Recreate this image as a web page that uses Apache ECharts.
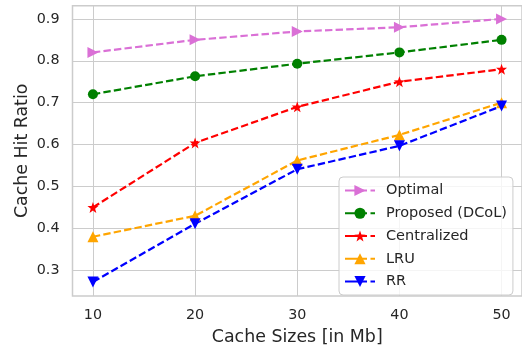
<!DOCTYPE html>
<html>
<head>
<meta charset="utf-8">
<script src="https://cdn.jsdelivr.net/npm/echarts@6/dist/echarts.min.js"></script>
<style>html,body{margin:0;padding:0;background:#fff;}#c{width:522px;height:351px;}</style>
</head>
<body>
<div id="c"></div>
<script>
var cacheSizes = [10, 20, 30, 40, 50];
var optimal = [0.82, 0.85, 0.87, 0.88, 0.90];
var proposed = [0.72, 0.763, 0.793, 0.82, 0.85];
var centralized = [0.45, 0.604, 0.69, 0.75, 0.78];
var lru = [0.38, 0.43, 0.562, 0.623, 0.70];
var rr = [0.272, 0.411, 0.541, 0.597, 0.692];
var xTicks = [10, 20, 30, 40, 50];
var yTicks = [0.3, 0.4, 0.5, 0.6, 0.7, 0.8, 0.9];

var FONT = 'DejaVu Sans';
var TXT = '#262626';
var STAR = 'path://M0,-10 L2.35,-3.24 L9.51,-3.09 L3.8,1.24 L5.88,8.09 L0,4 L-5.88,8.09 L-3.8,1.24 L-9.51,-3.09 L-2.35,-3.24Z';

function pairs(ys) { return cacheSizes.map(function (x, i) { return [x, ys[i]]; }); }
function mk(name, ys, color, symbol, rot, size) {
  return {
    name: name, type: 'line', data: pairs(ys),
    symbol: symbol, symbolRotate: rot, symbolSize: size,
    showSymbol: true, animation: false,
    lineStyle: { color: color, width: 2.2, type: [7.4, 3.2] },
    itemStyle: { color: color },
    emphasis: { disabled: true }
  };
}

var chart = echarts.init(document.getElementById('c'), null, { renderer: 'canvas' });
chart.setOption({
  animation: false,
  backgroundColor: '#ffffff',
  textStyle: { fontFamily: FONT },
  grid: { left: 72.5, top: 5.7, width: 450, height: 292.2, show: true, borderColor: '#cccccc', borderWidth: 1.5, containLabel: false },
  xAxis: {
    type: 'value', min: 8, max: 52,
    name: 'Cache Sizes [in Mb]', nameLocation: 'middle', nameGap: 33, nameMoveOverlap: false,
    nameTextStyle: { fontFamily: FONT, fontSize: 17.4, color: TXT },
    axisLine: { show: false },
    axisTick: { show: false, customValues: xTicks },
    axisLabel: { customValues: xTicks, fontFamily: FONT, fontSize: 14.3, color: TXT, margin: 12 },
    splitLine: { show: true, lineStyle: { color: '#cccccc', width: 1 } }
  },
  yAxis: {
    type: 'value', min: 0.2385, max: 0.9315,
    name: 'Cache Hit Ratio', nameLocation: 'middle', nameGap: 42, nameMoveOverlap: false,
    nameTextStyle: { fontFamily: FONT, fontSize: 17.4, color: TXT },
    axisLine: { show: false },
    axisTick: { show: false, customValues: yTicks },
    axisLabel: { customValues: yTicks, fontFamily: FONT, fontSize: 14.3, color: TXT, margin: 13,
      formatter: function (v) { return (Math.round(v * 10) / 10).toFixed(1); } },
    splitLine: { show: true, lineStyle: { color: '#cccccc', width: 1 } }
  },
  legend: {
    orient: 'vertical', left: 339, top: 177,
    padding: [6, 6, 6, 5],
    itemWidth: 30, itemHeight: 14, itemGap: 7.75,
    backgroundColor: 'rgba(255,255,255,0.8)',
    borderColor: '#cccccc', borderWidth: 1, borderRadius: 4,
    textStyle: { fontFamily: FONT, fontSize: 14.5, color: TXT, padding: [0, 0, 0, 6] },
    lineStyle: { type: [22, 3.5] },
    data: ['Optimal', 'Proposed (DCoL)', 'Centralized', 'LRU', 'RR']
  },
  series: [
    mk('Optimal', optimal, '#DA70D6', 'triangle', -90, 11),
    mk('Proposed (DCoL)', proposed, '#008000', 'circle', 0, 10),
    mk('Centralized', centralized, '#FF0000', STAR, 0, 11),
    mk('LRU', lru, '#FFA500', 'triangle', 0, 11),
    mk('RR', rr, '#0000FF', 'triangle', 180, 11)
  ]
});
</script>
</body>
</html>
